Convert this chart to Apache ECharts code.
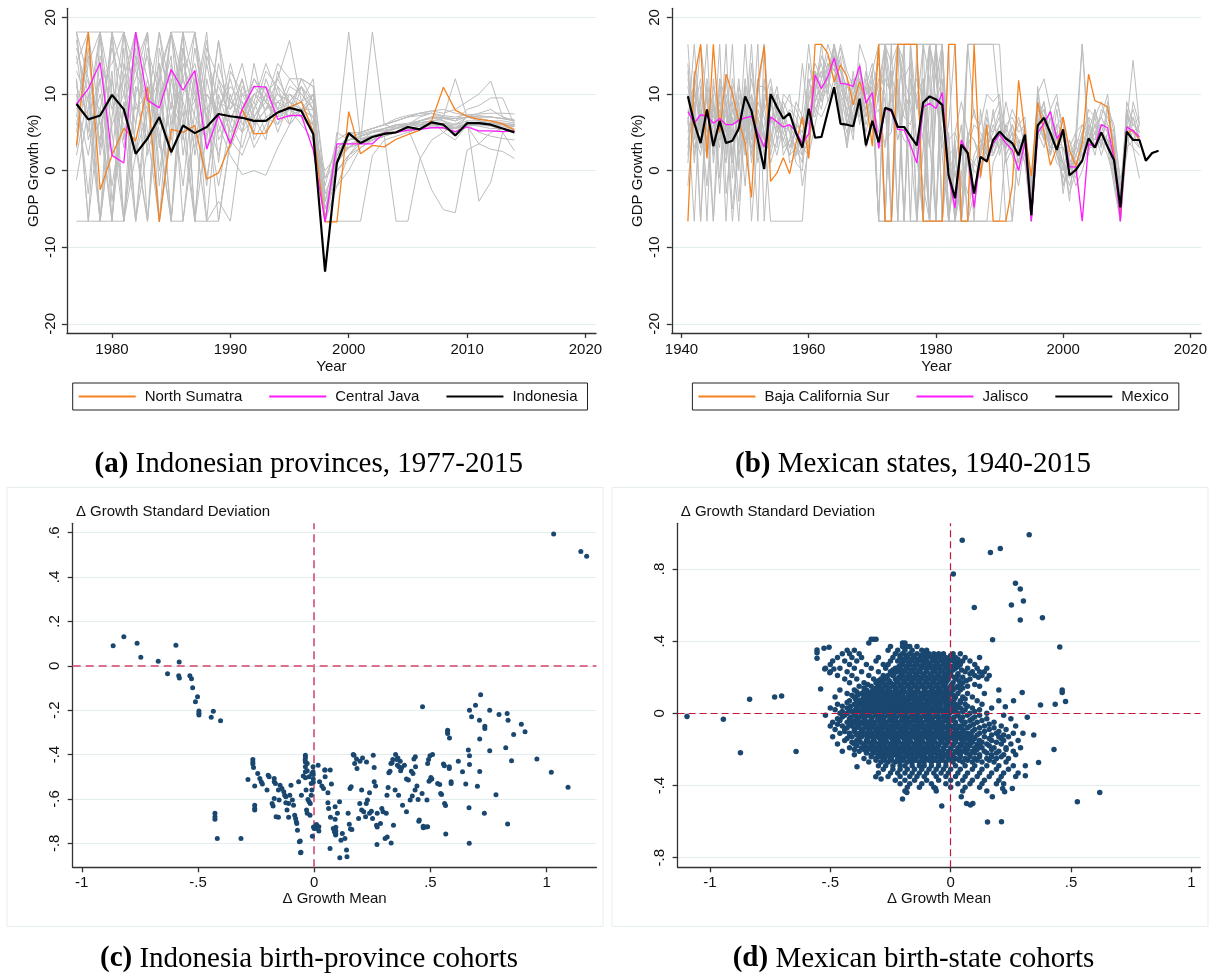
<!DOCTYPE html>
<html><head><meta charset="utf-8">
<script src="https://cdn.jsdelivr.net/npm/echarts@6.0.0/dist/echarts.min.js"></script>
<style>html,body{margin:0;padding:0;background:#fff}#c{width:1214px;height:976px}</style>
</head><body><div id="c"></div><script>
// ---------- Panel (a): Indonesia, 1977-2014 ----------
const idnStart = 1977;
const indonesia = [8.7,6.7,7.2,9.9,8.0,2.2,4.2,7.0,2.4,5.9, 4.9,5.7,7.4,7.1,6.9,6.5,6.5,7.6,8.2,7.8, 4.8,-13.2,1.0,4.9,3.6,4.4,4.8,5.0,5.7,5.4, 6.3,6.0,4.6,6.2,6.2,6.0,5.5,5.0];
const centralJava = [8.7,10.7,14.1,2.0,1.0,18.1,9.2,8.2,13.2,10.5, 13.1,2.8,7.2,3.5,8.0,11.0,10.9,6.7,7.2,7.2, 2.7,-6.7,3.5,3.5,3.5,3.5,4.9,5.0,5.3,5.4, 5.6,5.6,5.1,5.7,5.2,5.2,5.1,5.2];
const northSumatra = [3.3,18.1,-2.5,2.0,5.5,3.9,10.9,-6.7,5.4,5.0, 5.9,-1.1,-0.3,3.5,8.0,4.8,4.9,7.6,8.3,9.0, 5.1,-6.7,-6.7,7.7,2.2,3.3,3.1,4.1,4.7,5.3, 6.5,10.9,7.9,7.1,6.7,6.5,6.1,5.3];
const idnProvinces = [
[18.1,12,-6.6,18.1,4,15,9,18.1,6,12,18.1,3, 9,8,12,6,10,8,9,11,6, -6.6, 2,4,5,5.5,6,6.5,7,7.2,7.5,7,6.8,7,7.2,7,6.8,6.5],
[12,-6.6,18.1,5,-6.6,10,15,3,18.1,8,-6.6,12, 5,9,7,10,8,12,9,7,5, -3, 1,3,4,4.5,5,5.5,6,6,6.5,5,6.2,6,6,5.8,5.5,5.2],
[6,15,3,18.1,12,-6.6,8,14,4,16,10,-2, 12,6,3,8,11,9,7,8,9, -6.6, 4,18.1,4,5,5.5,6,6,6.5,7,6.5,5.5,7,6.8,6.5,6.2,6],
[-1.2,8,18.1,-6.6,14,6,18.1,-2,12,4,16,7, 2,10,5,14,7,6,10,9,7, -5, 0,2,3,4,5,5,5.5,5.8,6,5.5,5,6,6,6.2,6,5.8],
[14,18.1,6,10,-6.6,18.1,2,9,15,-6.6,8,17, 4,7,9,5,12,8,6,11,8, -6.6, 3,4.5,4.8,5.2,5.5,5.8,6,6,6.2,5.8,5.6,6,5.8,5.5,5.5,5.2],
[9,2,12,14,18.1,3,-6.6,16,8,18.1,-6.6,5, 17,3,10,7,4,13,8,7,10, -6.6, -2,2,4,18.1,6,5.5,6,6.5,7,6.8,6.5,7,6.8,6.5,6.5,6.2],
[11,7,-6.6,6,10,18.1,12,5,-6.6,14,9,10, 8,12,6,9,14,10,8,6,4, 0, 2,3,3.5,4,4.5,-6.6,-6.6,1.5,4,5,4,6,5,4.5,4.2,4],
[16,10,8,-6.6,18.1,9,4,12,18.1,2,13,-6.6, 10,5,8,12,9,7,11,10,8, -4, 3,4,4.5,5,5.5,6,5.5,1.8,-2.5,-5.1,-5.5,2.7,3.5,5,5.5,5.8],
[3,14,18.1,-4,8,16,-6.6,10,13,6,18.1,9, -6.6,4,11,8,13,11,9,8,10, -6.6, 2,4,4.2,4.6,5,5.5,5.8,6,6,6.2,6,6.5,-4,-1.5,5,6],
[18.1,4,10,2,16,-6.6,11,7,18.1,9,3,14, 6,2,-0.5,0,-0.6,3,6,8,7, -2, 4,5,5,5.5,6,6.5,7,7.5,7.8,7.5,8,9,10,11.7,7,6.5],
[7,18.1,-6.6,12,3,14,18.1,-6.6,7,12,5,16, 12,9,14,7,10,12,17,9,10, -6.6, 5,4,4.5,5,5.2,5.5,6,6.5,6.8,7,12,7,7.5,8,7,6.5],
[13,9,4,18.1,-6.6,6,16,10,2,18.1,11,-1, 8,11,9,6,8,9,10,8,6, -1, 1,3.5,4,4.5,5,5.5,6,6.2,6.5,6.5,6,7,6.5,6,5,2.6],
[10,-3,15,8,12,18.1,5,-6.6,14,7,9,18.1, 1,13,10,11,9,7,8,12,11, -6.6, 0,2,3.5,4,4.5,5,5.5,5.8,6,5.5,5.5,5.8,3.5,2.8,2.5,1.6],
[8,12,6,-6.6,9,2,12,4,-6.6,10,14,7, -2,6,12,4,7,8,12,10,8, -5, 1.5,3,4.5,5,5.5,6,6.2,6.5,7,7,6.5,8,8.5,9.5,9.5,6],
[15,5,18.1,10,6,-6.6,3,18.1,10,-2,12,8, 11,7,5,10,11,8,7,12,9, -6.6, 2.5,4,5,5.5,6,6.8,7.2,7.5,7.8,8,7.5,7.2,7,7,6.8,6.5],
[5,16,2,13,-6.6,11,8,14,-6.6,16,2,10, 7,14,8,3,6,9,8,9,12, -3, -2,0,3,4,4.5,5,5.2,5.5,6,5.8,5.5,6.2,6.3,6.2,6,5.8],
[17,7,12,-2,8,12,18.1,0,9,5,-6.6,15, 9,3,7,12,10,5,9,11,9, -6.6, 3,3,4,4.5,5,5.5,6,7,7.5,6.5,5,6.5,6.5,6.3,6.2,6],
[12,-6.6,8,16,10,4,-6.6,13,18.1,12,7,4, 14,8,10,9,5,11,6,8,7, -6.6, 2,5,4.6,5,5.3,5.6,6,6.3,6.5,6.8,6.8,7,7,7,6.8,6.7],
[2,10,-6.6,7,18.1,13,9,-6.6,5,18.1,-6.6,-6.6, -6.6,4,2,6,8,10,9,8,8, -4, 0,1.5,3,4,4.5,5,5.2,5.5,5.8,6,5.8,6,6,6,5.8,5.5],
[18.1,18.1,18.1,18.1,18.1,8,10,6,18.1,18.1,18.1,6, 17,9,8,10,9,14,12,12,11, -1, 3,4,5,5.5,6,6.5,7,7.5,7.5,7.2,7,7.3,7.4,7.5,7.5,7.4],
[-6.6,-6.6,-6.6,-6.6,-6.6,2,8,12,-6.6,-6.6,5,-6.6, -4,-6.6,5,7,9,6,8,7,6, -6.6, -6.6,-6.6,-6.6,2,4,4.5,5,5.5,6,6,5.5,6,6,6,6,5.8]
];

// ---------- Panel (b): Mexico, 1941-2015 ----------
const mexStart = 1941;
const mexico = [9.7,6.2,3.6,8.0,3.2,6.5,3.6,3.9,5.5,9.7, 7.8,4.0,0.2,10.0,8.3,6.8,7.5,4.9,3.0,8.1, 4.3,4.4,7.7,10.9,6.1,6.0,5.8,9.4,3.3,6.5, 3.7,8.2,7.9,5.7,5.7,4.5,3.3,8.9,9.7,9.3, 8.6,-0.6,-3.6,3.4,2.3,-3.0,1.8,1.2,4.0,5.1, 4.2,3.6,2.0,4.7,-5.8,5.9,6.9,4.9,2.7,5.4, -0.6,0.1,1.3,4.2,3.0,5.0,3.1,1.4,-4.8,5.1, 4.0,4.0,1.3,2.3,2.6];
const jalisco = [7.7,6.2,7.3,7.1,6.2,6.8,6.0,6.0,6.6,6.9, 7.1,4.9,3.1,7.0,6.4,5.7,6.0,5.1,3.6,4.8, 12.5,10.7,12.3,14.7,11.4,11.3,11.0,13.7,8.8,10.2, 2.9,8.1,7.7,5.4,5.3,3.3,1.0,8.3,8.8,8.1, 10.2,-0.8,-4.9,4.0,2.3,-4.8,1.8,1.2,3.6,4.7, 3.6,2.7,0.0,3.8,-6.6,4.9,6.2,7.7,4.2,5.3, 0.5,0.5,-6.6,3.5,3.1,6.0,5.6,1.6,-6.6,5.7, 5.2,4.4];
const bajaCalSur = [-6.6,12.0,16.5,1.6,16.5,5.0,12.6,10.1,6.5,3.6, -3.5,11.4,16.3,-1.4,-0.3,1.7,-0.4,3.6,7.0,1.6, 16.5,16.5,15.3,11.6,13.8,12.3,8.6,11.6,9.2,3.2, 16.5,-6.6,-6.6,16.5,16.5,16.5,16.5,-6.6,-6.6,-6.6, -6.6,16.5,16.5,-6.6,-6.6,16.5,-0.8,6.0,-6.6,-6.6, -6.6,-2.0,11.8,4.9,-0.7,8.9,5.1,0.7,3.0,7.0, 2.7,0.6,3.6,12.6,9.1,8.8,8.3,2.1,-6.0,4.9, 5.3,4.0];
const mexStates = [
[16.5,4,9,-6.6,12,5,8,2,10,6,16.5,3, 9,12,7,4,6,2,8,16.5,9,12,16.5,14, 12,9,11,8,13,7,16.5,16.5,16.5,16.5,16.5,16.5, 16.5,16.5,16.5,16.5,16.5,-6.6,3,-6.6,5,-6.6,8,2, 4,6,3,5,1,5,-6.6,7,9,4,6,5, 1,3,16.5,5,4,6,3,2,-6.6,6,14.4,6],
[2,12,-6.6,8,3,11,5,7,-4,9,4,16.5, -6.6,6,10,8,5,3,1,14,10,15,13,16.5, 10,6,9,12,7,10,-6.6,-6.6,16.5,16.5,12,9, 4,-2,-6.6,-6.6,16.5,2,-6.6,4,1,-5,3,6, 5,8,2,4,3,2,-4,8,6,5,4,3, 0,2,5,6,3,5,4,0,-5,7,6,5],
[12,7,3,10,-6.6,6,9,-5,4,11,2,8, 5,-6.6,-6.6,-6.6,-6.6,-6.6,-6.6,5,8,10,12,15, 9,3,8,10,5,9,11,16.5,14,16.5,10,8, 2,-6.6,16.5,9,5,-6.6,-6.6,0,-3,2,4,1, 3,5,4,6,3,1,-6.6,7,8,5,3,1, -2,1,2,4,5,4,3,-2,-6.6,5,7,4],
[6,16.5,5,2,9,-3,10,6,8,3,7,10, 16.5,4,9,6,3,5,2,10,12,9,14,13, 16,12,6,8,10,13,16.5,-6.6,-6.6,9,16.5,16.5, 8,16.5,12,-6.6,-6.6,16.5,-6.6,-2,16.5,16.5,16.5,16.5, 16.5,16.5,2,-6.6,4,2,-5,6,8,3,5,0, 1,-1,3,4,6,7,5,1,-4,6,5,4],
[-2,8,12,5,7,10,-6.6,9,3,12,6,5, 8,10,4,7,5,1,0,9,11,13,11,16.5, 11,8,4,14,9,8,12,9,-6.6,-6.6,-6.6,-6.6, -6.6,-6.6,-6.6,16.5,-6.6,3,-6.6,4,-6.6,1,0,3, 6,4,3,5,4,3,-6.6,6,4,7,2,1, -3,0,4,5,2,6,5,3,-6.6,5,4,6],
[10,3,6,16.5,1,8,4,12,7,-2,10,6, 3,9,6,4,2,3,4,8,7,11,12,15, 13,11,10,9,8,12,9,16.5,8,6,4,3, 14,8,3,16.5,-6.6,-6.6,-6.6,-6.6,2,0,-1,4, 7,9,5,2,-2,4,-5,10,6,4,4,1, -1,2,4,8,7,9,6,5,-6.6,4,5,6],
[5,9,-6.6,12,6,3,16.5,-1,11,8,2,9, 7,3,8,5,6,4,3,7,12,14,10,16.5, 7,4,12,6,11,14,10,-6.6,16.5,-6.6,16.5,16.5, -6.6,16.5,-6.6,8,16.5,0,2,-6.6,-6.6,-3,2,5, 4,3,6,7,5,6,-6.6,5,3,7,3,-2, 2,3,2,5,4,8,7,4,-3,6,8,5],
[14,1,10,6,-6.6,12,2,8,5,10,-6.6,4, 10,7,5,9,7,6,5,6,10,8,13,15, 14,10,5,11,6,9,5,12,10,4,8,10, 12,6,-6.6,9,12,-6.6,4,-6.6,3,6,5,3, 5,7,1,3,2,4,-3,7,4,5,9,6, 0,4,3,6,5,7,10,2,-5,8,5,3],
[8,6,4,11,3,16.5,-3,5,12,4,9,2, 12,5,2,6,8,7,4,11,14,12,15,13, 12,7,13,7,12,10,-6.6,16.5,16.5,16.5,-6.6,16.5, 16.5,-6.6,16.5,16.5,9,4,5,2,16.5,16.5,16.5,16.5, 16.5,8,-6.6,-6.6,3,4,-2,6,5,8,2,-1, 3,5,16.5,3,6,5,4,-1,-6.6,9,6,5],
[3,10,7,-2,9,4,6,-6.6,3,16.5,5,12, 4,11,8,3,4,3,2,4,9,11,12,14, 8,5,7,9,3,7,8,3,12,10,7,6, 10,12,-6.6,-6.6,10,2,3,-5,5,4,2,7, 3,6,4,2,0,5,-6.6,9,5,3,3,3, 1,-2,0,3,3,4,2,-1,-6.6,3,4,5],
[11,5,2,8,4,9,7,3,-6.6,7,10,1, 6,8,11,6,3,6,-2,3,10,16.5,9,12, 16.5,13,11,12,9,6,16.5,16.5,-6.6,16.5,16.5,-6.6, 16.5,16.5,16.5,12,16.5,-6.6,-6.6,-6.6,4,8,4,2, 2,4,5,8,6,7,-4,9,7,2,6,7, 1,0,5,7,6,3,8,6,-2,5,6,7],
[7,-6.6,11,3,8,6,1,10,6,3,8,-6.6, 16.5,2,6,8,1,2,3,2,6,10,12,10, 10,8,9,8,10,11,3,4,5,16.5,9,3, -6.6,10,16.5,-6.6,-6.6,-6.6,1,6,-6.6,-6.6,-6.6,-6.6, -6.6,-6.6,3,6,4,1,-3,8,7,4,1,0, 4,1,3,2,8,5,3,3,-4,4,3,-1],
[9,11,5,7,10,-1,12,4,7,5,12,7, 2,4,3,10,9,8,6,12,8,7,9,11, 15,6,10,13,7,11,14,10,-6.6,12,-6.6,16.5, 3,-6.6,9,16.5,-6.6,5,-6.6,3,2,1,3,8, 2,5,3,4,7,3,-1,6,9,2,8,2, -4,5,6,4,7,3,9,5,-1,2,9,6],
[4,7,16.5,9,5,7,3,11,2,6,3,11, 11,6,10,2,4,9,7,3,13,9,11,15, 6,11,12,10,11,8,-6.6,-6.6,13,-6.6,12,14, -6.6,12,4,-6.6,16.5,-6.6,5,9,5,4,1,2, 8,2,6,3,4,4,-6.6,4,6,5,5,-3, 3,2,1,7,3,6,6,4,-6,5,7,4],
[13,2,8,4,11,7,5,16.5,0,11,1,7, 4,7,5,8,10,5,14,6,11,13,10,16.5, 13,9,6,16.5,14,5,10,14,9,11,-6.6,12, 9,4,-6.6,10,2,-6.6,0,-6.6,-6.6,-6.6,-6.6,-6.6, 1,3,9,5,1,6,-5,11,4,2,6,-2, 0,3,6,5,8,4,4,2,-3,8,3,2],
[1,13,6,10,2,12,9,1,9,2,14,5, 9,1,4,5,2,6,5,9,13,11,14,12, 9,3,10,11,8,13,-6.6,16.5,11,16.5,14,-6.6, -6.6,3,16.5,12,3,6,16.5,-6.6,16.5,7,6,10, 9,10,2,4,6,5,-2,10,12,8,10,4, 2,4,4,3,5,2,5,0,-5,6,4,3]
];

// ---------- Panel (c): Indonesia birth-province cohorts [Δ mean, Δ sd] ----------
const idnCohorts = [
[-0.865,0.09],[-0.819,0.131],[-0.762,0.101],[-0.746,0.039],[-0.671,0.02],[-0.631,-0.036],[-0.595,0.092],[-0.581,0.017],[-0.583,-0.045],[-0.58,-0.055],
[-0.535,-0.045],[-0.528,-0.058],[-0.523,-0.099],[-0.502,-0.14],[-0.511,-0.162],[-0.496,-0.204],[-0.496,-0.214],[-0.496,-0.222],[-0.434,-0.205],[-0.443,-0.232],[-0.403,-0.248],
[-0.427,-0.665],[-0.427,-0.68],[-0.427,-0.692],[-0.417,-0.778],[-0.315,-0.778],
[1.03,0.594],[1.147,0.515],[1.172,0.494],
[0.891,-0.264],[0.907,-0.297],[0.958,-0.42],[1.02,-0.48],[1.092,-0.547],[0.782,-0.581],[0.732,-0.665],[0.832,-0.713],[0.667,-0.8],[0.566,-0.758],[0.849,-0.428],[0.824,-0.369],[0.755,-0.383],
[0.466,-0.185],[0.574,-0.29],[0.574,-0.298],[0.574,-0.305],[0.582,-0.325],[0.668,-0.2],[0.677,-0.23],[0.694,-0.178],[0.716,-0.13],[0.711,-0.245],[0.734,-0.272],[0.734,-0.283],[0.712,-0.33],[0.755,-0.2],[0.795,-0.22],[0.83,-0.215],[0.834,-0.245],[0.858,-0.31],
[0.712,-0.476],[0.702,-0.543],[0.663,-0.38],[0.668,-0.445],[0.668,-0.405],[0.666,-0.64],[0.62,-0.43],[0.638,-0.477],[0.652,-0.533],[0.589,-0.523],[0.581,-0.455],[0.565,-0.63],[0.548,-0.58],[0.56,-0.45],[0.54,-0.535],
[0.498,-0.405],[0.488,-0.44],[0.506,-0.51],[0.494,-0.52],[0.45,-0.7],[0.469,-0.73],[0.488,-0.725],
[0.35,-0.4],[0.36,-0.415],[0.37,-0.43],[0.365,-0.455],[0.33,-0.44],[0.376,-0.46],[0.397,-0.51],[0.418,-0.475],[0.429,-0.42],[0.436,-0.455],
[-0.285,-0.512],[-0.264,-0.422],[-0.264,-0.433],[-0.264,-0.443],[-0.261,-0.458],[-0.256,-0.542],[-0.256,-0.628],[-0.256,-0.643],[-0.256,-0.65],[-0.243,-0.485],
[-0.234,-0.508],[-0.228,-0.523],[-0.223,-0.533],[-0.203,-0.56],[-0.198,-0.493],[-0.194,-0.5],[-0.181,-0.62],[-0.177,-0.632],[-0.172,-0.508],[-0.172,-0.523],
[-0.167,-0.53],[-0.172,-0.598],[-0.164,-0.68],[-0.154,-0.683],[-0.154,-0.56],[-0.151,-0.605],[-0.147,-0.538],[-0.139,-0.553],[-0.131,-0.568],[-0.127,-0.583],
[-0.122,-0.59],[-0.122,-0.617],[-0.117,-0.65],[-0.11,-0.62],[-0.11,-0.683],[-0.105,-0.583],[-0.1,-0.538],[-0.094,-0.605],[-0.089,-0.628],[-0.084,-0.673],
[-0.08,-0.688],[-0.077,-0.703],[-0.075,-0.711],[-0.072,-0.741],[-0.067,-0.523],[-0.064,-0.793],[-0.059,-0.843],[-0.055,-0.583],[-0.047,-0.497],[-0.038,-0.455],
[-0.038,-0.478],[-0.038,-0.505],[-0.035,-0.56],[-0.033,-0.65],[-0.03,-0.665],[-0.027,-0.602],[-0.022,-0.613],[-0.018,-0.673],[-0.017,-0.62],[-0.013,-0.583],
[-0.01,-0.56],[-0.013,-0.53],[-0.01,-0.485],[-0.005,-0.478],[-0.005,-0.455],[-0.008,-0.768],[-0.003,-0.726],[0,-0.733],[0.007,-0.733],[0.02,-0.744],
[-0.038,-0.403],[-0.038,-0.413],[-0.038,-0.433],[-0.03,-0.473],[-0.022,-0.5],[-0.004,-0.49],[-0.004,-0.51],[-0.004,-0.525],[-0.03,-0.44],[-0.039,-0.425],
[0.017,-0.448],[0.023,-0.523],[0.033,-0.542],[0.04,-0.553],[0.047,-0.5],[0.047,-0.47],[0.059,-0.572],[0.059,-0.617],[0.062,-0.643],[0.07,-0.683],
[0.074,-0.533],[0.082,-0.733],[0.087,-0.748],[0.092,-0.763],[0.09,-0.635],[0.09,-0.692],[0.1,-0.665],[0.109,-0.613],[0.115,-0.786],[0.121,-0.756],
[0.132,-0.778],[0.141,-0.861],[0.146,-0.665],[0.151,-0.714],[0.154,-0.553],[0.159,-0.545],[0.162,-0.738],[0.171,-0.403],[0.174,-0.44],[0.184,-0.463],
[0.191,-0.688],[0.196,-0.62],[0.204,-0.56],[0.204,-0.65],[0.213,-0.658],[0.221,-0.68],[0.224,-0.62],[0.229,-0.605],[0.238,-0.665],[0.238,-0.572],
[0.246,-0.655],[0.251,-0.688],[0.254,-0.403],[0.258,-0.458],[0.258,-0.523],[0.264,-0.542],[0.271,-0.665],[0.271,-0.726],[0.285,-0.711],[0.291,-0.643],
[0.296,-0.658],[0.305,-0.778],[0.31,-0.665],[0.313,-0.583],[0.318,-0.548],[0.321,-0.482],[0.326,-0.475],[0.335,-0.437],[0.338,-0.422],[0.341,-0.718],
[0.348,-0.56],[0.355,-0.422],[0.358,-0.448],[0.363,-0.583],[0.372,-0.473],[0.38,-0.628],[0.388,-0.448],[0.397,-0.658],[0.405,-0.515],[0.413,-0.605],
[0.422,-0.587],[0.425,-0.485],[0.434,-0.56],[0.435,-0.41],[0.442,-0.542],[0.447,-0.602],[0.452,-0.695],[0.464,-0.575],[0.469,-0.723],[0.48,-0.726],
[0.485,-0.605],[0.492,-0.422],[0.499,-0.515],[0.502,-0.503],[0.509,-0.4],[0.531,-0.53],[0.544,-0.575],[0.556,-0.443],[0.561,-0.62],[0.581,-0.463],[0.589,-0.53],
[0.068,-0.823],[0.11,-0.865],[0.139,-0.83],[-0.057,-0.84],[-0.06,-0.79],[0.01,-0.715],[0.02,-0.725],[0.045,-0.47],[0.069,-0.47],[0.168,-0.4],[0.182,-0.42],[0.197,-0.43],[0.208,-0.415],[0.225,-0.433],[0.268,-0.718],[0.314,-0.771],[0.331,-0.798],[0.27,-0.805],[0.156,-0.735],[0.093,-0.728],[0.093,-0.745],[0.093,-0.758]
];

// ---------- Panel (d): Mexican birth-state cohorts: rows of [Δ sd, [Δ mean ...]] ----------
const mexRows = [
[0.41,[-0.33,-0.32,-0.31]],
[0.39,[-0.34,-0.2,-0.19]],
[0.37,[-0.25,-0.2,-0.18,-0.17,-0.14]],
[0.35,[-0.43,-0.4,-0.26,-0.22,-0.19,-0.16,-0.12,-0.1]],
[0.33,[-0.45,-0.42,-0.38,-0.23,-0.2,-0.17,-0.14,-0.11,-0.09,-0.07,-0.05,-0.03,0.01,0.04]],
[0.31,[-0.47,-0.41,-0.37,-0.3,-0.24,-0.21,-0.18,-0.15,-0.12,-0.1,-0.08,-0.05,-0.02,0.0,0.02,0.06,0.12]],
[0.29,[-0.49,-0.44,-0.39,-0.31,-0.25,-0.22,-0.19,-0.16,-0.13,-0.1,-0.07,-0.04,-0.01,0.01,0.03,0.05,0.08]],
[0.27,[-0.5,-0.42,-0.35,-0.28,-0.26,-0.2,-0.17,-0.14,-0.11,-0.09,-0.06,-0.03,-0.01,0.02,0.04,0.1]],
[0.25,[-0.52,-0.46,-0.4,-0.33,-0.27,-0.23,-0.21,-0.18,-0.15,-0.12,-0.08,-0.05,-0.02,0.0,0.02,0.07,0.11,0.15]],
[0.23,[-0.5,-0.43,-0.37,-0.3,-0.25,-0.22,-0.19,-0.16,-0.13,-0.1,-0.07,-0.04,-0.01,0.06,0.09,0.12,0.14]],
[0.21,[-0.47,-0.41,-0.34,-0.28,-0.26,-0.24,-0.2,-0.17,-0.14,-0.11,-0.08,-0.05,-0.02,0.0,0.03,0.1,0.13,0.16]],
[0.19,[-0.44,-0.39,-0.32,-0.29,-0.27,-0.23,-0.21,-0.18,-0.15,-0.12,-0.09,-0.06,-0.03,-0.01,0.02,0.08,0.15]],
[0.17,[-0.42,-0.36,-0.31,-0.28,-0.25,-0.22,-0.19,-0.16,-0.13,-0.1,-0.07,-0.04,-0.02,0.01,0.05]],
[0.15,[-0.38,-0.33,-0.3,-0.27,-0.24,-0.21,-0.18,-0.15,-0.12,-0.09,-0.06,-0.03,0.0,0.03,0.07,0.12]],
[0.13,[-0.46,-0.4,-0.35,-0.32,-0.29,-0.26,-0.23,-0.2,-0.17,-0.14,-0.11,-0.08,-0.05,-0.02,0.01,0.04,0.2]],
[0.11,[-0.43,-0.37,-0.34,-0.31,-0.29,-0.27,-0.24,-0.22,-0.2,-0.17,-0.15,-0.12,-0.1,-0.07,-0.05,-0.02,0.0,0.03,0.07,0.14]],
[0.09,[-0.48,-0.4,-0.36,-0.33,-0.3,-0.28,-0.25,-0.23,-0.21,-0.18,-0.16,-0.13,-0.11,-0.08,-0.06,-0.03,-0.01,0.02,0.05,0.09]],
[0.07,[-0.42,-0.38,-0.35,-0.32,-0.3,-0.27,-0.25,-0.22,-0.2,-0.18,-0.15,-0.13,-0.1,-0.08,-0.05,-0.03,0.0,0.04,0.11,0.2]],
[0.05,[-0.47,-0.4,-0.37,-0.34,-0.31,-0.29,-0.26,-0.24,-0.21,-0.19,-0.16,-0.14,-0.11,-0.09,-0.06,-0.04,-0.01,0.02,0.06,0.13]],
[0.03,[-0.5,-0.43,-0.39,-0.36,-0.33,-0.3,-0.28,-0.25,-0.23,-0.2,-0.18,-0.15,-0.13,-0.1,-0.08,-0.05,-0.02,0.0,0.04,0.09,0.17]],
[0.01,[-0.45,-0.41,-0.38,-0.35,-0.32,-0.3,-0.27,-0.25,-0.22,-0.2,-0.17,-0.15,-0.12,-0.1,-0.07,-0.05,-0.02,0.01,0.05,0.1]],
[-0.01,[-0.52,-0.44,-0.4,-0.37,-0.34,-0.31,-0.29,-0.26,-0.24,-0.21,-0.19,-0.16,-0.14,-0.11,-0.09,-0.06,-0.03,-0.01,0.03,0.07,0.12,0.22]],
[-0.03,[-0.47,-0.42,-0.39,-0.36,-0.33,-0.3,-0.28,-0.25,-0.23,-0.2,-0.18,-0.15,-0.13,-0.1,-0.08,-0.05,-0.02,0.0,0.04,0.09,0.15,0.25]],
[-0.05,[-0.49,-0.43,-0.4,-0.37,-0.34,-0.32,-0.29,-0.27,-0.24,-0.22,-0.19,-0.17,-0.14,-0.12,-0.09,-0.07,-0.04,-0.01,0.02,0.06,0.11,0.18]],
[-0.07,[-0.5,-0.45,-0.41,-0.38,-0.35,-0.33,-0.3,-0.28,-0.25,-0.23,-0.2,-0.18,-0.15,-0.13,-0.1,-0.08,-0.05,-0.03,0.0,0.04,0.08,0.14,0.21,0.27]],
[-0.09,[-0.48,-0.44,-0.4,-0.37,-0.34,-0.31,-0.29,-0.26,-0.24,-0.21,-0.19,-0.16,-0.14,-0.11,-0.09,-0.06,-0.04,-0.01,0.02,0.05,0.1,0.16,0.23]],
[-0.11,[-0.46,-0.42,-0.38,-0.35,-0.32,-0.3,-0.27,-0.25,-0.22,-0.2,-0.17,-0.15,-0.12,-0.1,-0.07,-0.05,-0.02,0.01,0.04,0.07,0.12,0.19,0.26,0.3]],
[-0.13,[-0.49,-0.41,-0.37,-0.33,-0.31,-0.28,-0.26,-0.23,-0.21,-0.18,-0.16,-0.13,-0.11,-0.08,-0.06,-0.03,0.0,0.03,0.06,0.09,0.14,0.2,0.24]],
[-0.15,[-0.44,-0.39,-0.35,-0.32,-0.29,-0.27,-0.24,-0.22,-0.19,-0.17,-0.14,-0.12,-0.09,-0.07,-0.04,-0.01,0.02,0.05,0.08,0.12,0.17,0.22,0.28]],
[-0.17,[-0.47,-0.4,-0.36,-0.33,-0.3,-0.28,-0.25,-0.23,-0.2,-0.18,-0.15,-0.13,-0.1,-0.08,-0.05,-0.02,0.01,0.04,0.07,0.11,0.15,0.21,0.25]],
[-0.19,[-0.42,-0.37,-0.34,-0.31,-0.29,-0.26,-0.24,-0.21,-0.19,-0.16,-0.14,-0.11,-0.09,-0.06,-0.03,0.0,0.03,0.06,0.1,0.13,0.18,0.23,0.29]],
[-0.21,[-0.45,-0.38,-0.35,-0.32,-0.29,-0.27,-0.25,-0.22,-0.2,-0.17,-0.15,-0.12,-0.1,-0.07,-0.04,-0.01,0.02,0.05,0.09,0.14,0.2,0.26]],
[-0.23,[-0.4,-0.33,-0.3,-0.28,-0.26,-0.23,-0.21,-0.18,-0.16,-0.13,-0.11,-0.08,-0.05,-0.02,0.01,0.04,0.08,0.12,0.17,0.22,0.27]],
[-0.25,[-0.36,-0.31,-0.28,-0.25,-0.22,-0.2,-0.17,-0.15,-0.12,-0.1,-0.07,-0.04,-0.01,0.02,0.06,0.1,0.15,0.19,0.24]],
[-0.27,[-0.34,-0.29,-0.26,-0.23,-0.21,-0.18,-0.16,-0.13,-0.11,-0.08,-0.05,-0.02,0.01,0.05,0.09,0.13,0.18,0.23]],
[-0.29,[-0.3,-0.27,-0.24,-0.21,-0.19,-0.16,-0.13,-0.11,-0.08,-0.05,-0.02,0.02,0.06,0.1,0.15,0.2,0.26,0.31]],
[-0.31,[-0.28,-0.24,-0.21,-0.18,-0.15,-0.12,-0.09,-0.06,-0.03,0.0,0.04,0.09,0.13,0.19,0.24]],
[-0.33,[-0.3,-0.25,-0.22,-0.19,-0.16,-0.13,-0.1,-0.07,-0.04,-0.01,0.03,0.07,0.12,0.17,0.22,0.28]],
[-0.35,[-0.26,-0.21,-0.17,-0.14,-0.11,-0.06,-0.02,0.02,0.06,0.11,0.16,0.21,0.27]],
[-0.37,[-0.23,-0.19,-0.15,-0.1,-0.05,0.0,0.05,0.09,0.14,0.2]],
[-0.39,[-0.21,-0.17,-0.12,-0.08,-0.02,0.03,0.08,0.13,0.19,0.22]],
[-0.41,[-0.18,-0.13,-0.07,0.0,0.06,0.12]],
[-0.43,[-0.19,-0.06,0.05,0.15]]
];
const mexCoreRows = [
[0.32,[-0.21,-0.185,-0.155,-0.125,-0.1,-0.06,-0.04,0.0]],
[0.30,[-0.195,-0.165,-0.135,-0.11,-0.065,-0.03,-0.01,0.03]],
[0.28,[-0.205,-0.175,-0.145,-0.115,-0.085,-0.055,-0.025,0.02,0.04]],
[0.26,[-0.215,-0.185,-0.155,-0.125,-0.1,-0.07,-0.045,-0.02,0.005,0.03]],
[0.24,[-0.24,-0.2,-0.165,-0.135,-0.1,-0.065,-0.035,-0.01,0.01,0.045]],
[0.22,[-0.235,-0.205,-0.175,-0.145,-0.115,-0.085,-0.055,-0.025,0.0,0.03,0.08]],
[0.20,[-0.27,-0.215,-0.185,-0.155,-0.125,-0.095,-0.065,-0.035,-0.01,0.015,0.05,0.115]],
[0.18,[-0.3,-0.255,-0.225,-0.195,-0.165,-0.135,-0.105,-0.075,-0.045,-0.015,0.035,0.065]],
[0.16,[-0.345,-0.295,-0.265,-0.235,-0.205,-0.175,-0.145,-0.115,-0.085,-0.055,-0.025,0.005,0.04,0.1]],
[0.14,[-0.36,-0.31,-0.285,-0.255,-0.225,-0.195,-0.165,-0.135,-0.105,-0.075,-0.045,-0.015,0.02,0.05]],
[0.12,[-0.39,-0.36,-0.33,-0.3,-0.275,-0.25,-0.215,-0.19,-0.16,-0.135,-0.105,-0.085,-0.06,-0.035,-0.01]],
[0.10,[-0.41,-0.385,-0.35,-0.32,-0.285,-0.26,-0.235,-0.2,-0.175,-0.145,-0.12,-0.09,-0.065,-0.04,-0.015,0.01]],
[0.08,[-0.395,-0.365,-0.34,-0.31,-0.29,-0.26,-0.24,-0.215,-0.19,-0.165,-0.14,-0.115,-0.09,-0.065,-0.04,-0.02,0.015,0.06]],
[0.06,[-0.43,-0.39,-0.36,-0.33,-0.305,-0.28,-0.255,-0.23,-0.205,-0.175,-0.15,-0.125,-0.095,-0.07,-0.045,-0.02,0.01,0.04]],
[0.04,[-0.45,-0.415,-0.38,-0.35,-0.32,-0.295,-0.27,-0.245,-0.22,-0.195,-0.17,-0.145,-0.12,-0.095,-0.07,-0.045,-0.02,0.01,0.03,0.07]],
[0.02,[-0.48,-0.42,-0.395,-0.365,-0.34,-0.315,-0.29,-0.265,-0.24,-0.215,-0.19,-0.16,-0.135,-0.11,-0.085,-0.06,-0.035,-0.01,0.02,0.06,0.12]],
[0.00,[-0.46,-0.43,-0.395,-0.36,-0.335,-0.31,-0.285,-0.26,-0.235,-0.21,-0.185,-0.16,-0.135,-0.11,-0.085,-0.055,-0.03,-0.005,0.03,0.08,0.15]],
[-0.02,[-0.45,-0.415,-0.38,-0.355,-0.325,-0.3,-0.275,-0.25,-0.225,-0.2,-0.17,-0.145,-0.12,-0.095,-0.07,-0.04,-0.015,0.015,0.05,0.1]],
[-0.04,[-0.46,-0.41,-0.385,-0.355,-0.33,-0.305,-0.28,-0.255,-0.23,-0.205,-0.18,-0.155,-0.125,-0.1,-0.075,-0.05,-0.025,0.01,0.045,0.08,0.13]],
[-0.06,[-0.47,-0.42,-0.39,-0.36,-0.34,-0.315,-0.29,-0.265,-0.24,-0.215,-0.19,-0.165,-0.14,-0.115,-0.09,-0.06,-0.035,-0.01,0.02,0.055,0.095,0.16]],
[-0.08,[-0.43,-0.39,-0.355,-0.325,-0.3,-0.275,-0.25,-0.225,-0.2,-0.175,-0.15,-0.125,-0.1,-0.07,-0.045,-0.02,0.01,0.035,0.07,0.12,0.18]],
[-0.10,[-0.44,-0.4,-0.365,-0.335,-0.31,-0.285,-0.26,-0.235,-0.21,-0.185,-0.16,-0.135,-0.11,-0.085,-0.06,-0.035,-0.005,0.025,0.055,0.09,0.14,0.2]],
[-0.12,[-0.42,-0.39,-0.36,-0.34,-0.315,-0.29,-0.265,-0.24,-0.215,-0.19,-0.165,-0.14,-0.115,-0.09,-0.065,-0.04,-0.015,0.015,0.045,0.08,0.11,0.17,0.22]],
[-0.14,[-0.43,-0.38,-0.345,-0.32,-0.295,-0.27,-0.245,-0.22,-0.195,-0.17,-0.145,-0.12,-0.095,-0.07,-0.045,-0.02,0.01,0.04,0.07,0.1,0.16,0.21]],
[-0.16,[-0.41,-0.375,-0.34,-0.315,-0.29,-0.265,-0.24,-0.215,-0.19,-0.165,-0.14,-0.115,-0.09,-0.065,-0.035,-0.01,0.02,0.055,0.09,0.13,0.19]],
[-0.18,[-0.39,-0.355,-0.325,-0.3,-0.275,-0.25,-0.225,-0.2,-0.175,-0.15,-0.125,-0.1,-0.075,-0.05,-0.02,0.01,0.045,0.08,0.12,0.16]],
[-0.20,[-0.4,-0.36,-0.33,-0.305,-0.28,-0.255,-0.23,-0.205,-0.18,-0.155,-0.13,-0.105,-0.08,-0.055,-0.03,0.0,0.035,0.07,0.11,0.17,0.23]],
[-0.22,[-0.35,-0.315,-0.29,-0.265,-0.24,-0.215,-0.19,-0.165,-0.14,-0.115,-0.09,-0.065,-0.035,-0.005,0.03,0.065,0.1,0.15,0.19]],
[-0.24,[-0.33,-0.295,-0.27,-0.245,-0.22,-0.19,-0.165,-0.14,-0.11,-0.085,-0.055,-0.03,0.0,0.04,0.08,0.12,0.17,0.21]],
[-0.26,[-0.31,-0.275,-0.245,-0.22,-0.195,-0.17,-0.145,-0.115,-0.09,-0.065,-0.035,0.0,0.035,0.07,0.11,0.16]]
];
const mexExtra = [
[-1.095,-0.018],[-0.944,-0.033],[-0.873,-0.218],[-0.835,0.078],[-0.731,0.091],[-0.702,0.096],[-0.642,-0.212],
[-0.555,0.351],[-0.555,0.336],[-0.555,0.305],[-0.526,0.36],[-0.505,0.366],[-0.54,0.135],[-0.523,0.246],[-0.485,0.246],[-0.502,0.225],
[0.326,0.989],[0.048,0.959],[0.165,0.891],[0.206,0.913],[0.011,0.772],[0.269,0.721],[0.289,0.689],[0.302,0.623],[0.252,0.601],[0.098,0.586],
[0.289,0.517],[0.381,0.53],[0.174,0.408],[0.453,0.368],[0.463,0.129],[0.463,0.115],[0.477,0.065],[0.434,0.05],[0.373,0.046],[0.297,0.115],
[0.261,0.07],[0.227,0.037],[0.318,-0.022],[0.345,-0.12],[0.429,-0.2],[0.365,-0.273],[0.31,-0.346],[0.619,-0.438],[0.526,-0.49],
[0.153,-0.602],[0.211,-0.6],[-0.037,-0.514],[0.066,-0.499],[0.082,-0.508],[0.092,-0.499],[0.044,-0.462],[0.173,-0.462],[-0.063,-0.416],
[-0.2,-0.475],[-0.182,-0.438],[-0.389,-0.296],[-0.311,-0.351],[-0.289,-0.364],[0.216,-0.416],[0.224,-0.434],[0.256,-0.416]
];

// ---------- helpers ----------
const SANS = '"Liberation Sans", Arial, Helvetica, sans-serif';
const SERIF = '"Liberation Serif", "Times New Roman", serif';
const AX = '#333333', GRIDC = '#e3ecee';
const fmtDot = v => { if (Math.abs(v) < 1e-9) return '0'; return String(Math.round(v * 10) / 10).replace('0.', '.'); };
const fmtYear = v => String(Math.round(v));
function valAxis(idx, min, max, ticks, opts) {
  opts = opts || {};
  return {
    type: 'value', gridIndex: idx, min: min, max: max,
    axisLine: { show: true, onZero: false, lineStyle: { color: AX, width: 1.3 } },
    axisTick: { show: true, length: 5, customValues: ticks, lineStyle: { color: AX, width: 1.3 } },
    axisLabel: { customValues: ticks, fontFamily: SANS, fontSize: 15, color: '#111', margin: opts.margin || 9, rotate: opts.rotate || 0, formatter: opts.fmt || fmtYear },
    splitLine: { show: !!opts.grid, lineStyle: { color: GRIDC, width: 1 } },
    name: opts.name || '', nameLocation: 'middle', nameGap: opts.nameGap || 26,
    nameTextStyle: { fontFamily: SANS, fontSize: 15, color: '#111' }
  };
}
const series = [];
function lineSer(name, start, vals, color, width, idx, z) {
  series.push({ type: 'line', name: name, xAxisIndex: idx, yAxisIndex: idx, data: vals.map((v, i) => [start + i, v]),
    symbol: 'none', lineStyle: { color: color, width: width }, itemStyle: { color: color }, z: z, silent: true });
}
idnProvinces.forEach((arr, k) => lineSer('idn' + k, idnStart, arr, '#bdbdbd', 1, 0, 2));
lineSer('North Sumatra', idnStart, northSumatra, '#f5821f', 1.3, 0, 3);
lineSer('Central Java', idnStart, centralJava, '#ff1aff', 1.3, 0, 4);
lineSer('Indonesia', idnStart, indonesia, '#000000', 2.2, 0, 5);
mexStates.forEach((arr, k) => lineSer('mex' + k, mexStart, arr, '#bdbdbd', 1, 1, 2));
lineSer('Baja California Sur', mexStart, bajaCalSur, '#f5821f', 1.3, 1, 3);
lineSer('Jalisco', mexStart, jalisco, '#ff1aff', 1.3, 1, 4);
lineSer('Mexico', mexStart, mexico, '#000000', 2.2, 1, 5);

const mexPts = [];
mexRows.forEach(r => r[1].forEach(x => mexPts.push([x, r[0]])));
mexCoreRows.forEach(r => r[1].forEach(x => mexPts.push([x, r[0]])));
mexExtra.forEach(p => mexPts.push(p));

series.push({ type: 'scatter', xAxisIndex: 2, yAxisIndex: 2, data: idnCohorts, symbol: 'circle', symbolSize: 5,
  itemStyle: { color: '#1a476f', opacity: 1 }, z: 3,
  markLine: { silent: true, symbol: ['none', 'none'], label: { show: false }, z: 2,
    lineStyle: { type: [8, 5], color: '#db6f8c', width: 2 }, data: [{ xAxis: 0 }, { yAxis: 0 }] } });
series.push({ type: 'scatter', xAxisIndex: 3, yAxisIndex: 3, data: mexPts, symbol: 'circle', symbolSize: 5.5,
  itemStyle: { color: '#1a476f', opacity: 1 }, z: 3,
  markLine: { silent: true, symbol: ['none', 'none'], label: { show: false }, z: 4,
    lineStyle: { type: [7, 4], color: '#c3183d', width: 1.2 }, data: [{ xAxis: 0 }, { yAxis: 0 }] } });

function legendCfg(left, names) {
  return { left: left, top: 383, orient: 'horizontal', data: names, icon: 'rect', itemWidth: 57, itemHeight: 2, itemGap: 27,
    padding: [6, 10, 6, 6], borderColor: '#222', borderWidth: 1, selectedMode: false,
    textStyle: { fontFamily: SANS, fontSize: 15, color: '#111', lineHeight: 14, padding: [0, 0, 0, 4] } };
}
function caption(x, y, b, rest) {
  return { type: 'text', x: x, y: y, style: { text: '{b|' + b + '}' + rest, rich: { b: { fontFamily: SERIF, fontSize: 29, fontWeight: 'bold', fill: '#000' } },
    font: '29px ' + SERIF, fill: '#000', textAlign: 'center', textVerticalAlign: 'middle' } };
}

const option = {
  animation: false,
  backgroundColor: '#ffffff',
  grid: [
    { left: 66.9, top: 8.3, width: 529.1, height: 324.7 },
    { left: 671.8, top: 8.3, width: 529.4, height: 324.7 },
    { left: 72.7, top: 523.3, width: 523.7, height: 344 },
    { left: 677.6, top: 523.3, width: 522.8, height: 344 }
  ],
  xAxis: [
    valAxis(0, 1976.19, 2020.89, [1980, 1990, 2000, 2010, 2020], { name: 'Year', nameGap: 26, margin: 9 }),
    valAxis(1, 1938.47, 2021.71, [1940, 1960, 1980, 2000, 2020], { name: 'Year', nameGap: 26, margin: 9 }),
    valAxis(2, -1.039, 1.214, [-1, -0.5, 0, 0.5, 1], { name: 'Δ Growth Mean', nameGap: 24.5, margin: 8.5, fmt: fmtDot }),
    valAxis(3, -1.134, 1.037, [-1, -0.5, 0, 0.5, 1], { name: 'Δ Growth Mean', nameGap: 24.5, margin: 8.5, fmt: fmtDot })
  ],
  yAxis: [
    valAxis(0, -21.2, 21.2, [-20, -10, 0, 10, 20], { grid: true, rotate: 90, margin: 9, name: 'GDP Growth (%)', nameGap: 26, fmt: fmtYear }),
    valAxis(1, -21.2, 21.2, [-20, -10, 0, 10, 20], { grid: true, rotate: 90, margin: 9, name: 'GDP Growth (%)', nameGap: 26, fmt: fmtYear }),
    valAxis(2, -0.908, 0.642, [-0.8, -0.6, -0.4, -0.2, 0, 0.2, 0.4, 0.6], { grid: true, rotate: 90, margin: 10.5, fmt: fmtDot }),
    valAxis(3, -0.853, 1.053, [-0.8, -0.4, 0, 0.4, 0.8], { grid: true, rotate: 90, margin: 10.5, fmt: fmtDot })
  ],
  legend: [
    legendCfg(72.7, ['North Sumatra', 'Central Java', 'Indonesia']),
    legendCfg(692.4, ['Baja California Sur', 'Jalisco', 'Mexico'])
  ],
  graphic: [
    { type: 'rect', shape: { x: 7, y: 487.5, width: 596, height: 439 }, style: { fill: 'none', stroke: '#e6edf0', lineWidth: 1 }, silent: true, z: -1 },
    { type: 'rect', shape: { x: 612, y: 487.5, width: 596, height: 439 }, style: { fill: 'none', stroke: '#e6edf0', lineWidth: 1 }, silent: true, z: -1 },
    { type: 'text', x: 75.9, y: 511.7, style: { text: 'Δ Growth Standard Deviation', font: '15px ' + SANS, fill: '#111', textVerticalAlign: 'middle' } },
    { type: 'text', x: 680.7, y: 511.7, style: { text: 'Δ Growth Standard Deviation', font: '15px ' + SANS, fill: '#111', textVerticalAlign: 'middle' } },
    caption(308.7, 464.8, '(a)', ' Indonesian provinces, 1977-2015'),
    caption(913, 464.8, '(b)', ' Mexican states, 1940-2015'),
    caption(309, 959, '(c)', ' Indonesia birth-province cohorts'),
    caption(913.5, 959, '(d)', ' Mexican birth-state cohorts')
  ],
  series: series
};
const chart = echarts.init(document.getElementById('c'), null, { renderer: 'canvas' });
chart.setOption(option);
</script></body></html>
